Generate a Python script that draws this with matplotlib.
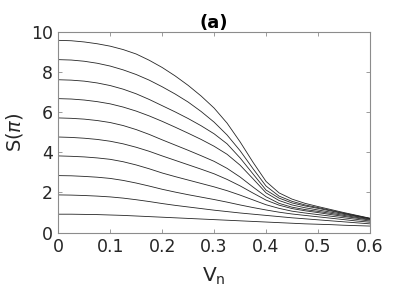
import matplotlib
matplotlib.use("Agg")
import matplotlib.pyplot as plt

vn = [0.0, 0.025, 0.05, 0.075, 0.1, 0.125, 0.15, 0.175, 0.2, 0.225, 0.25, 0.275,
      0.3, 0.325, 0.35, 0.375, 0.4, 0.425, 0.45, 0.475, 0.5, 0.525, 0.55, 0.575, 0.6]

s1 = [9.57, 9.55, 9.49, 9.40, 9.28, 9.11, 8.89, 8.58, 8.22, 7.80, 7.33, 6.80,
      6.20, 5.45, 4.52, 3.50, 2.55, 1.98, 1.67, 1.46, 1.30, 1.15, 1.00, 0.86, 0.72]
s2 = [8.61, 8.59, 8.53, 8.43, 8.29, 8.10, 7.87, 7.59, 7.26, 6.90, 6.50, 6.03,
      5.50, 4.86, 4.08, 3.18, 2.32, 1.82, 1.56, 1.38, 1.25, 1.11, 0.97, 0.84, 0.71]
s3 = [7.61, 7.59, 7.54, 7.45, 7.32, 7.14, 6.91, 6.63, 6.32, 6.01, 5.68, 5.32,
      4.92, 4.42, 3.72, 2.92, 2.12, 1.72, 1.48, 1.33, 1.21, 1.08, 0.95, 0.82, 0.70]
s4 = [6.67, 6.65, 6.60, 6.52, 6.41, 6.25, 6.05, 5.81, 5.54, 5.25, 4.95, 4.64,
      4.30, 3.90, 3.36, 2.68, 1.98, 1.60, 1.38, 1.24, 1.13, 1.02, 0.91, 0.80, 0.69]
s5 = [5.71, 5.69, 5.65, 5.58, 5.48, 5.33, 5.13, 4.89, 4.62, 4.36, 4.10, 3.83,
      3.55, 3.20, 2.77, 2.27, 1.79, 1.46, 1.27, 1.15, 1.06, 0.96, 0.86, 0.76, 0.66]
s6 = [4.76, 4.74, 4.70, 4.64, 4.55, 4.42, 4.25, 4.05, 3.82, 3.60, 3.38, 3.16,
      2.93, 2.65, 2.33, 1.97, 1.62, 1.37, 1.20, 1.09, 1.00, 0.90, 0.81, 0.72, 0.63]
s7 = [3.82, 3.80, 3.77, 3.72, 3.65, 3.53, 3.37, 3.18, 2.97, 2.79, 2.62, 2.45,
      2.28, 2.09, 1.87, 1.63, 1.39, 1.21, 1.07, 0.98, 0.90, 0.82, 0.74, 0.66, 0.58]
s8 = [2.84, 2.83, 2.80, 2.76, 2.70, 2.60, 2.47, 2.32, 2.16, 2.02, 1.89, 1.77,
      1.65, 1.52, 1.38, 1.25, 1.13, 1.02, 0.93, 0.86, 0.79, 0.72, 0.65, 0.58, 0.52]
s9 = [1.88, 1.87, 1.85, 1.82, 1.78, 1.72, 1.64, 1.55, 1.45, 1.36, 1.28, 1.20,
      1.12, 1.05, 0.98, 0.92, 0.86, 0.80, 0.74, 0.69, 0.64, 0.59, 0.54, 0.49, 0.44]
s10 = [0.92, 0.92, 0.91, 0.90, 0.88, 0.86, 0.83, 0.80, 0.77, 0.74, 0.71, 0.68,
       0.65, 0.62, 0.59, 0.56, 0.53, 0.50, 0.47, 0.44, 0.42, 0.40, 0.37, 0.35, 0.33]

series = [s1, s2, s3, s4, s5, s6, s7, s8, s9, s10]

xticks = [0, 0.1, 0.2, 0.3, 0.4, 0.5, 0.6]
xticklabels = ["0", "0.1", "0.2", "0.3", "0.4", "0.5", "0.6"]
yticks = [0, 2, 4, 6, 8, 10]
yticklabels = ["0", "2", "4", "6", "8", "10"]

fig = plt.figure(figsize=(4.09, 2.96), dpi=100)
ax = fig.add_axes([0.1425, 0.2139, 0.762, 0.679])

for s in series:
    ax.plot(vn, s, color="#262626", linewidth=0.6)

ax.set_xlim(0, 0.6)
ax.set_ylim(0, 10)
ax.set_xticks(xticks)
ax.set_xticklabels(xticklabels)
ax.set_yticks(yticks)
ax.set_yticklabels(yticklabels)

for sp in ax.spines.values():
    sp.set_color("#8c8c8c")
    sp.set_linewidth(0.8)
ax.tick_params(direction="in", length=3, width=0.6, color="#8c8c8c",
               top=True, right=True, labelsize=12.5, labelcolor="#262626", pad=4)

ax.set_xlabel(r"V$_\mathrm{n}$", fontsize=14.5, color="#262626", labelpad=7)
ax.set_ylabel(r"S($\pi$)", fontsize=14, color="#262626", labelpad=4)
ax.set_title("(a)", fontsize=13, fontweight="bold", color="black", pad=3)

fig.savefig("out.png", dpi=100)
